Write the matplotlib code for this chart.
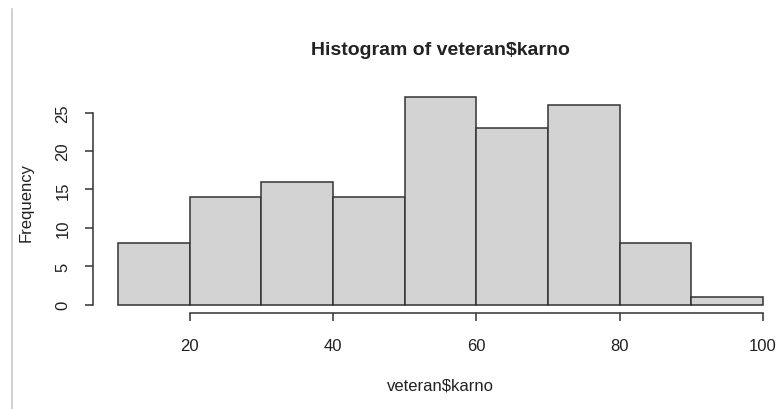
import matplotlib.pyplot as plt
from matplotlib.lines import Line2D
import numpy as np

plt.rcParams['font.family'] = ['Liberation Sans', 'DejaVu Sans']

# karno scores binned by 10
edges = [10, 20, 30, 40, 50, 60, 70, 80, 90, 100]
counts = [8, 14, 16, 14, 27, 23, 26, 8, 1]
xticks = [20, 40, 60, 80, 100]
yticks = [0, 5, 10, 15, 20, 25]

W, H = 776, 410
fig = plt.figure(figsize=(W / 100, H / 100), dpi=100)

# plot region in pixels, R style 4% padding on both axes
left, right, top, bottom = 92.5, 788.5, 90.0, 314.0
ax = fig.add_axes([left / W, (H - bottom) / H, (right - left) / W, (bottom - top) / H])

ink = '#222222'
ax.bar(edges[:-1], counts, width=np.diff(edges), align='edge',
       color='#d3d3d3', edgecolor='#333333', linewidth=1.1)

span = edges[-1] - edges[0]
ax.set_xlim(edges[0] - 0.04 * span, edges[-1] + 0.04 * span)
ax.set_ylim(-0.04 * max(counts), 1.04 * max(counts))

for s in ['top', 'right']:
    ax.spines[s].set_visible(False)
ax.spines['left'].set_bounds(yticks[0], yticks[-1])
ax.spines['bottom'].set_bounds(xticks[0], xticks[-1])
for s in ['left', 'bottom']:
    ax.spines[s].set_color('#333333')
    ax.spines[s].set_linewidth(1.1)

ax.set_xticks(xticks)
ax.set_yticks(yticks)
ax.tick_params(axis='both', length=5.8, width=1.1, color='#333333',
               labelsize=12, labelcolor=ink)
ax.tick_params(axis='x', pad=12)
ax.tick_params(axis='y', pad=10)
plt.setp(ax.get_yticklabels(), rotation=90, va='center')

ax.set_xlabel('veteran$karno', fontsize=12, color=ink, labelpad=17.5)
ax.set_ylabel('Frequency', fontsize=12, color=ink, labelpad=16)
ax.set_title('Histogram of veteran$karno', fontsize=14, fontweight='bold',
             color=ink, pad=25)

# thin gray border line on the left of the window
fig.add_artist(Line2D([11.5 / W, 11.5 / W], [0, (H - 10) / H],
                      color='#c8c8c8', linewidth=1.2))

fig.savefig('out.png', dpi=100)
